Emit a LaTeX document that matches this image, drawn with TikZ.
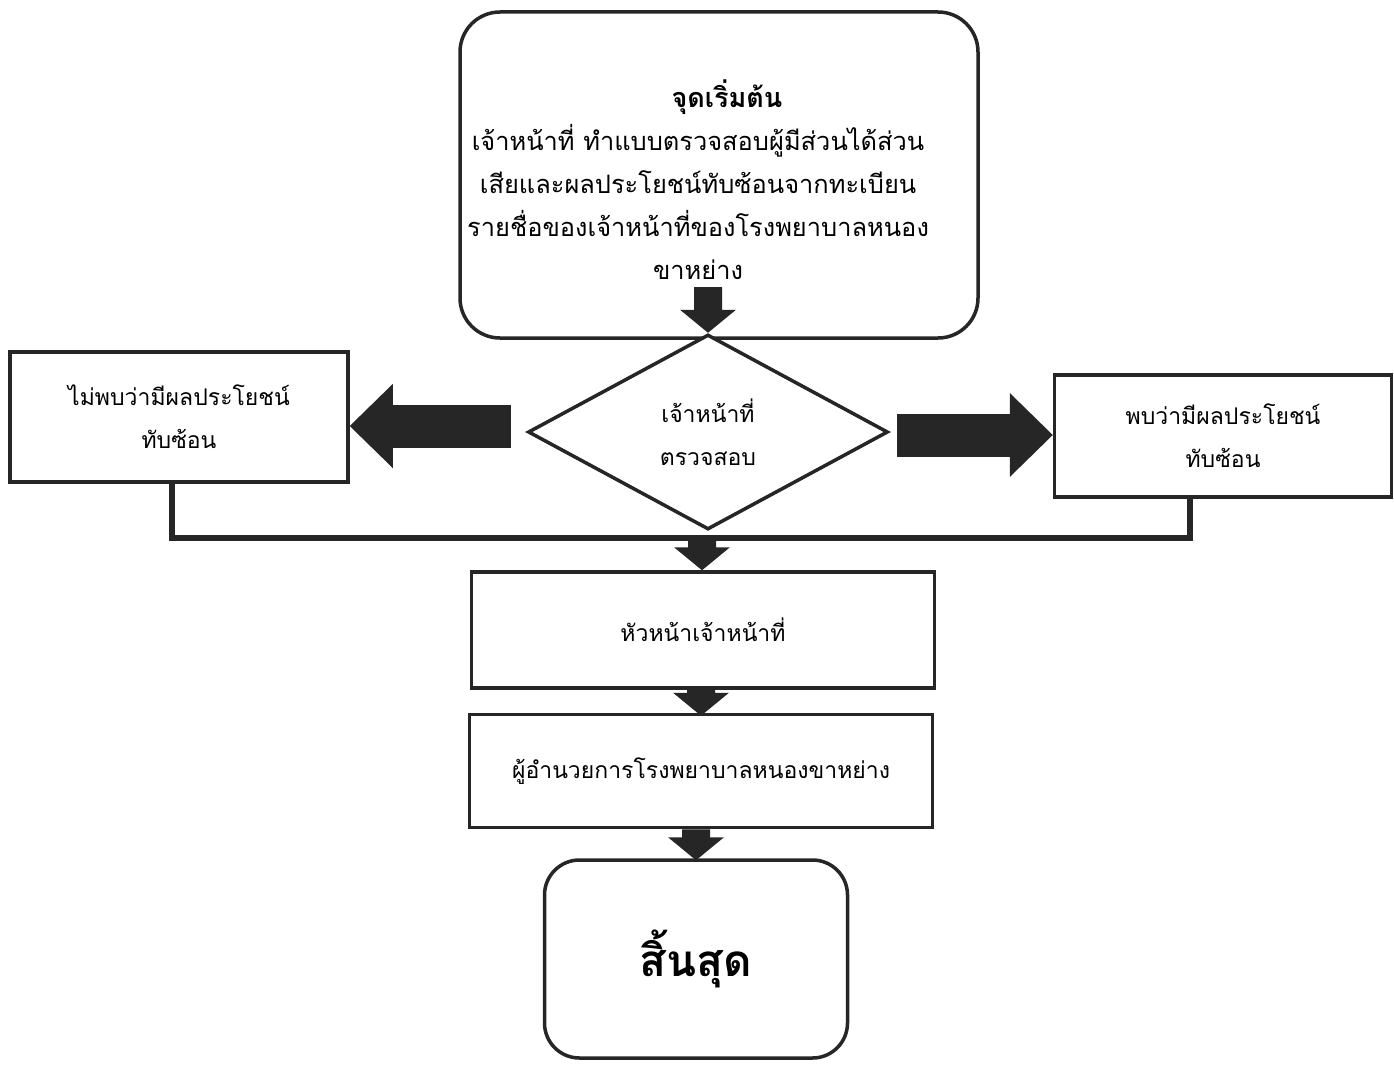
\documentclass[tikz,border=0pt]{standalone}
\usepackage{fontspec}
\newfontfamily\thai[Script=Thai]{Loma}
\usetikzlibrary{shapes.geometric,arrows.meta,calc}
\newcommand\dnarr[2]{\fill[arrowfill] ($(#1)+(-14,0)$) -- ($(#2)+(-14,-23)$) -- ($(#2)+(-28,-23)$) -- (#2) -- ($(#2)+(28,-23)$) -- ($(#2)+(14,-23)$) -- ($(#1)+(14,0)$) -- cycle;}
\begin{document}
\begin{tikzpicture}[x=1pt,y=-1pt,
  every node/.style={font=\thai\fontsize{23}{43}\selectfont, align=center},
  box/.style={draw=black!85, line width=3.5pt, fill=white, inner sep=0pt},
  rbox/.style={box, rounded corners=40pt},
  conn/.style={draw=black!85, line width=6pt},
  arrowfill/.style={fill=black!85},
  bigarrow/.style={draw=black!85, line width=43pt, -{Triangle[length=43pt,width=84pt,line width=0pt]}}
]
\useasboundingbox (0,0) rectangle (1394,1065);
\fill[white] (0,0) rectangle (1394,1065);

% nodes
\node[rbox, minimum width=518pt, minimum height=326pt] (start) at (719,175) {};
\node[font=\thai\bfseries\fontsize{27}{43}\selectfont] (title) at (727,97) {จุดเริ่มต้น};
\node[font=\thai\fontsize{25.4}{43}\selectfont] (starttxt) at (698,202) {เจ้าหน้าที่ ทำแบบตรวจสอบผู้มีส่วนได้ส่วน\\เสียและผลประโยชน์ทับซ้อนจากทะเบียน\\รายชื่อของเจ้าหน้าที่ของโรงพยาบาลหนอง\\ขาหย่าง};
\node[diamond, box, minimum width=360pt, minimum height=195pt] (dec) at (708,432) {เจ้าหน้าที่\\ตรวจสอบ};
\node[box, minimum width=338pt, minimum height=130pt] (lbox) at (179,417) {ไม่พบว่ามีผลประโยชน์\\ทับซ้อน};
\node[box, minimum width=337pt, minimum height=122pt] (rbox) at (1223,436) {พบว่ามีผลประโยชน์\\ทับซ้อน};
\node[box, minimum width=463pt, minimum height=116pt] (head) at (703,630) {หัวหน้าเจ้าหน้าที่};
\node[box, minimum width=463pt, minimum height=113pt] (dir) at (701,771) {ผู้อำนวยการโรงพยาบาลหนองขาหย่าง};
\node[rbox, rounded corners=35pt, minimum width=303pt, minimum height=198pt, font=\thai\bfseries\fontsize{44}{50}\selectfont] (end) at (696,959) {สิ้นสุด};

% coordinates
\coordinate (sa) at (708,287);
\coordinate (lt) at (511,426);
\coordinate (rt) at (897,435);
\coordinate (jn) at (702,538);
\coordinate (dt) at ([yshift=-3pt]dir.north);
\coordinate (hs) at (head.south -| dt);
\coordinate (et) at ([yshift=-2pt]end.north);
\coordinate (ds) at (dir.south -| et);

% connectors
\dnarr{sa}{sa |- dec.north}
\draw[bigarrow] (lt) -- (lt -| lbox.east);
\draw[bigarrow] (rt) -- (rt -| rbox.west);
\draw[conn] ([xshift=-7pt]lbox.south) |- (jn) -| ([xshift=-33pt]rbox.south);
\dnarr{jn}{jn |- head.north}
\dnarr{hs}{dt}
\dnarr{ds}{et}
\end{tikzpicture}
\end{document}
